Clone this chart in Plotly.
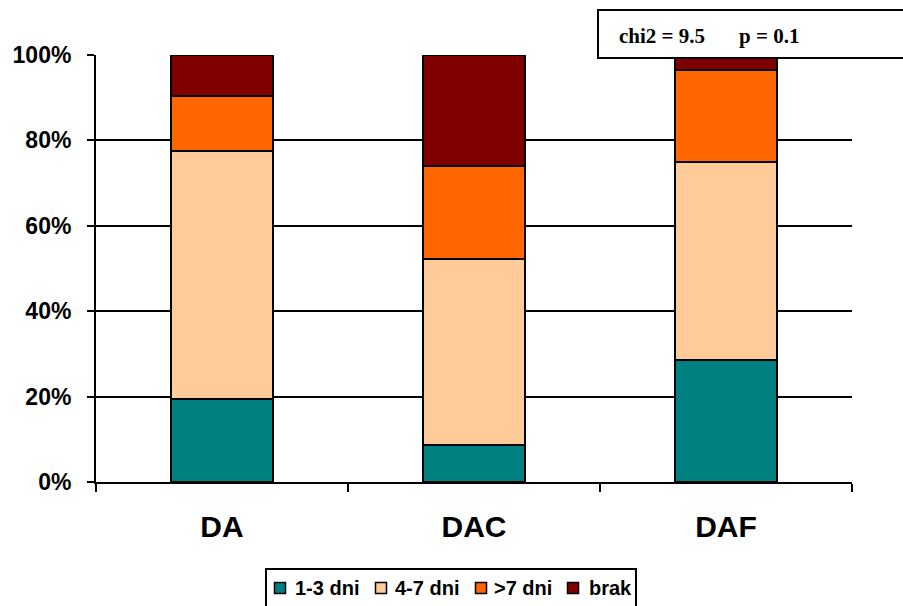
import plotly.graph_objects as go

# Share of patients per group (%), stacked to 100%
groups = ["DA", "DAC", "DAF"]
series_names = ["1-3 dni", "4-7 dni", ">7 dni", "brak"]
v_1_3 = [19.4, 8.7, 28.6]
v_4_7 = [58.1, 43.5, 46.4]
v_gt7 = [12.9, 21.7, 21.4]
v_brak = [9.6, 26.1, 3.6]
y_ticks = [0, 20, 40, 60, 80, 100]
y_tick_labels = ["0%", "20%", "40%", "60%", "80%", "100%"]

colors = ["#008080", "#FFCC99", "#FF6600", "#800000"]
values = [v_1_3, v_4_7, v_gt7, v_brak]

W, H = 903, 606
L, R, T, B = 96, 51, 55, 124
PW, PH = W - L - R, H - T - B


def px_x(px):
    """Pixel column -> paper x."""
    return (px - L) / PW


def px_y(py):
    """Pixel row -> paper y."""
    return (H - B - py) / PH


fig = go.Figure()
for name, vals, col in zip(series_names, values, colors):
    fig.add_trace(go.Bar(
        x=groups, y=vals, name=name, showlegend=False,
        marker=dict(color=col, line=dict(color="black", width=2)),
    ))

fig.update_layout(
    barmode="stack",
    bargap=0.595,
    width=W, height=H,
    margin=dict(l=L, r=R, t=T, b=B, autoexpand=False),
    paper_bgcolor="white", plot_bgcolor="white",
    font=dict(family="Liberation Sans, Arial", color="black"),
    xaxis=dict(
        showline=True, linecolor="black", linewidth=2,
        ticks="outside", tickson="boundaries", ticklen=8, tickwidth=2, tickcolor="black",
        tickfont=dict(size=30, weight="bold"),
        ticklabelstandoff=17,
        showgrid=False,
    ),
    yaxis=dict(
        range=[0, 100], tickvals=y_ticks, ticktext=y_tick_labels,
        showline=True, linecolor="black", linewidth=2,
        ticks="outside", ticklen=7, tickwidth=2, tickcolor="black",
        showgrid=True, gridcolor="black", gridwidth=2,
        tickfont=dict(size=23, weight="bold"),
        ticklabelstandoff=11,
        zeroline=False,
    ),
)

# Statistics box in the top-right corner
fig.add_shape(type="rect", xref="paper", yref="paper",
              x0=px_x(598), x1=px_x(910), y0=px_y(58), y1=px_y(10),
              line=dict(color="black", width=2), fillcolor="white", layer="above")
for txt, xpx in [("chi2 = 9.5", 617), ("p = 0.1", 737)]:
    fig.add_annotation(xref="paper", yref="paper", x=px_x(xpx), y=px_y(36),
                       xanchor="left", yanchor="middle", showarrow=False,
                       text="<b>" + txt + "</b>",
                       font=dict(family="Liberation Serif, Times New Roman", size=21, color="black"))

# Legend box along the bottom edge
fig.add_shape(type="rect", xref="paper", yref="paper",
              x0=px_x(266), x1=px_x(636), y0=px_y(612), y1=px_y(569),
              line=dict(color="black", width=2), fillcolor="white", layer="above")
legend_sq_centers = [280, 381, 481, 573]
legend_text_left = [294, 394, 493, 588]
for name, col, cx, tx in zip(series_names, colors, legend_sq_centers, legend_text_left):
    fig.add_shape(type="rect", xref="paper", yref="paper",
                  x0=px_x(cx - 5.5), x1=px_x(cx + 5.5), y0=px_y(588 + 5.5), y1=px_y(588 - 5.5),
                  line=dict(color="black", width=1.5), fillcolor=col, layer="above")
    fig.add_annotation(xref="paper", yref="paper", x=px_x(tx), y=px_y(588),
                       xanchor="left", yanchor="middle", showarrow=False,
                       xshift=-1, text="<b>" + name + "</b>",
                       font=dict(family="Liberation Sans, Arial", size=20, color="black"))

fig.write_html("out.html")
